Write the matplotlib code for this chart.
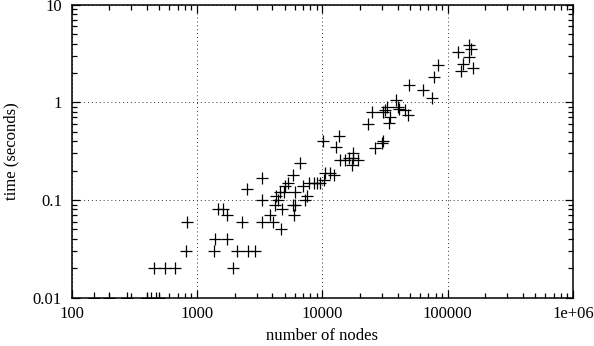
import matplotlib
matplotlib.use("Agg")
import matplotlib.pyplot as plt
from matplotlib.ticker import LogLocator, FixedLocator, NullFormatter

nodes = [150, 200, 275, 400, 430, 470, 500,
         450, 560, 670, 1950,
         810, 1370, 2070, 2560, 2900,
         1400, 1750,
         4660,
         830, 2270, 3280, 4050,
         1730, 3800, 5900,
         1480, 1600, 4800,
         4200, 5800, 6100,
         3300, 4450, 7300,
         4300, 7600,
         4600, 4900, 6100,
         2500,
         5000, 7000,
         5300, 7800, 8500, 9000, 9500,
         10300,
         3300,
         5800, 12300,
         10500, 11500,
         6600,
         17200,
         13800, 15200, 19400,
         16400, 17700,
         17700,
         26300,
         12800,
         29800,
         10100, 30300,
         13700,
         23000, 34300,
         34700,
         48500,
         24800, 30700,
         31500, 45700,
         41000,
         32700, 40400,
         38700,
         74600,
         63000,
         49400,
         77800,
         127000,
         160000,
         83000,
         133000,
         149000,
         122000,
         153000,
         149000]

times = [0.01, 0.01, 0.01, 0.01, 0.01, 0.01, 0.01,
         0.02, 0.02, 0.02, 0.02,
         0.03, 0.03, 0.03, 0.03, 0.03,
         0.04, 0.04,
         0.05,
         0.06, 0.06, 0.06, 0.06,
         0.07, 0.07, 0.07,
         0.08, 0.08, 0.08,
         0.09, 0.09, 0.09,
         0.10, 0.10, 0.10,
         0.11, 0.11,
         0.12, 0.12, 0.12,
         0.13,
         0.14, 0.14,
         0.15, 0.15, 0.15, 0.15, 0.15,
         0.16,
         0.17,
         0.18, 0.18,
         0.19, 0.19,
         0.24,
         0.23,
         0.26, 0.26, 0.26,
         0.27, 0.27,
         0.30,
         0.34,
         0.35,
         0.38,
         0.40, 0.40,
         0.45,
         0.60, 0.62,
         0.70,
         0.75,
         0.80, 0.80,
         0.83, 0.83,
         0.86,
         0.90, 0.90,
         1.05,
         1.10,
         1.35,
         1.50,
         1.80,
         2.10,
         2.25,
         2.40,
         2.50,
         2.90,
         3.30,
         3.50,
         3.90]

x_ticks = [100, 1000, 10000, 100000, 1000000]
x_labels = ["100", "1000", "10000", "100000", "1e+06"]
y_ticks = [0.01, 0.1, 1, 10]
y_labels = ["0.01", "0.1", "1", "10"]

plt.rcParams['font.family'] = ['Liberation Serif', 'DejaVu Serif']

fig = plt.figure(figsize=(5.94, 3.46), dpi=100)
ax = fig.add_axes([71.7/594, 1 - 297.7/346, (573 - 71.7)/594, (297.7 - 4.7)/346])

ax.plot(nodes, times, linestyle='none', marker='+', markersize=8,
        markeredgewidth=0.9, color='black', clip_on=True)

ax.set_xscale('log')
ax.set_yscale('log')
ax.set_xlim(100, 1e6)
ax.set_ylim(0.01, 10)

ax.xaxis.set_major_locator(FixedLocator(x_ticks))
ax.set_xticklabels(x_labels)
ax.yaxis.set_major_locator(FixedLocator(y_ticks))
ax.set_yticklabels(y_labels)
ax.xaxis.set_minor_locator(LogLocator(base=10, subs=range(2, 10)))
ax.yaxis.set_minor_locator(LogLocator(base=10, subs=range(2, 10)))
ax.xaxis.set_minor_formatter(NullFormatter())
ax.yaxis.set_minor_formatter(NullFormatter())

ax.tick_params(which='both', direction='in', top=True, right=True,
               labelsize=12, color='black', width=0.9)
ax.tick_params(which='major', length=6)
ax.tick_params(which='minor', length=3.5)
ax.tick_params(axis='x', which='major', pad=6)
ax.tick_params(axis='y', which='major', pad=7)

ax.grid(True, which='major', color='#333333', linestyle=(0, (1, 3)), linewidth=0.7)

for s in ax.spines.values():
    s.set_linewidth(1.1)
    s.set_color('black')

ax.set_xlabel('number of nodes', fontsize=12, labelpad=4)
ax.set_ylabel('time (seconds)', fontsize=12, labelpad=10)

fig.savefig('out.png', dpi=100)
